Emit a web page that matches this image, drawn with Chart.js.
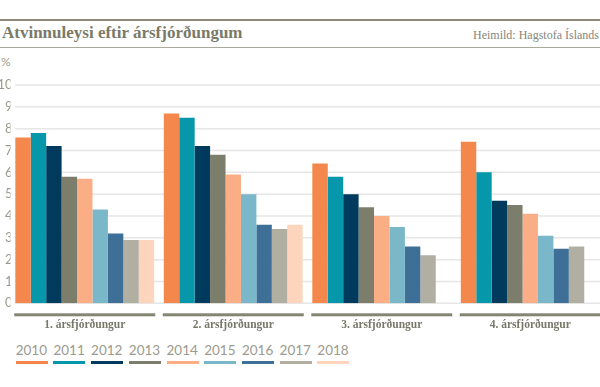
<!DOCTYPE html>
<html>
<head>
<meta charset="utf-8">
<script src="https://cdn.jsdelivr.net/npm/chart.js@4"></script>
<style>
  body { margin: 0; background: #fff; overflow: hidden; width: 600px; height: 387px; position: relative; }
  .rule-top { position: absolute; left: 0; top: 18.5px; width: 600px; height: 2px; background: #8c8b7b; }
  .rule-sub { position: absolute; left: 0; top: 46.5px; width: 600px; height: 1px; background: #aaa99c; }
  #title { position: absolute; left: 2px; top: 23px; font: bold 17px "Liberation Serif", serif; color: #7a7a67; white-space: nowrap; }
  #source { position: absolute; right: 1px; top: 28px; font: 12px "Liberation Serif", serif; color: #86867a; white-space: nowrap; }
  #unit { position: absolute; left: 1px; top: 54px; font: 12px Lato, sans-serif; color: #999a8e; }
  #wrap { position: absolute; left: 0; top: 0; width: 606px; height: 340px; }
  #legend { position: absolute; left: 0; top: 342px; width: 600px; height: 30px; }
  .item { position: absolute; top: 0; width: 32px; }
  .item span { display: block; font: 13.5px Lato, sans-serif; color: #9a9a8e; text-align: left; line-height: 16px; }
  .item i { display: block; margin-top: 3px; height: 3px; width: 32px; }
</style>
</head>
<body>
<div class="rule-top"></div>
<div id="title">Atvinnuleysi eftir ársfjórðungum</div>
<div id="source">Heimild: Hagstofa Íslands</div>
<div class="rule-sub"></div>
<div id="unit">%</div>
<div id="wrap"><canvas id="chart"></canvas></div>
<div id="legend"></div>
<script>
// Ársfjórðungar og ár
const fjordungar = ["1. ársfjórðungur", "2. ársfjórðungur", "3. ársfjórðungur", "4. ársfjórðungur"];
const ar = ["2010", "2011", "2012", "2013", "2014", "2015", "2016", "2017", "2018"];
const litir = ["#f4874b", "#0797ab", "#003a5d", "#7d7d6b", "#fbae86", "#7ab8c9", "#3e6f97", "#b1afa2", "#fdd5bd"];

// Atvinnuleysi (%) eftir ári, einn listi fyrir hvert ár (Q1..Q4)
const a2010 = [7.6, 8.7, 6.4, 7.4];
const a2011 = [7.8, 8.5, 5.8, 6.0];
const a2012 = [7.2, 7.2, 5.0, 4.7];
const a2013 = [5.8, 6.8, 4.4, 4.5];
const a2014 = [5.7, 5.9, 4.0, 4.1];
const a2015 = [4.3, 5.0, 3.5, 3.1];
const a2016 = [3.2, 3.6, 2.6, 2.5];
const a2017 = [2.9, 3.4, 2.2, 2.6];
const a2018 = [2.9, 3.6, null, null];
const yTicks = [0, 1, 2, 3, 4, 5, 6, 7, 8, 9, 10];

const gogn = [a2010, a2011, a2012, a2013, a2014, a2015, a2016, a2017, a2018];

// Legend í HTML
const legend = document.getElementById("legend");
ar.forEach((a, i) => {
    const d = document.createElement("div");
    d.className = "item";
    d.style.left = (15.7 + i * 37.7) + "px";
    d.innerHTML = `<span>${a}</span><i style="background:${litir[i]}"></i>`;
    legend.appendChild(d);
});

// Gridlínur og gráar línur undir hverjum ársfjórðungi
const skraut = {
    id: "skraut",
    beforeDatasetsDraw(chart) {
        const ctx = chart.ctx;
        const y = chart.scales.y;
        ctx.save();
        ctx.strokeStyle = "#e6e6e6";
        ctx.lineWidth = 1.5;
        yTicks.forEach(v => {
            const py = y.getPixelForValue(v);
            ctx.beginPath();
            ctx.moveTo(15, py);
            ctx.lineTo(chart.width, py);
            ctx.stroke();
        });
        ctx.restore();
    },
    afterDraw(chart) {
        const ctx = chart.ctx;
        const x = chart.scales.x;
        const botn = chart.chartArea.bottom;
        ctx.save();
        ctx.fillStyle = "#858573";
        fjordungar.forEach((f, i) => {
            const px = x.getPixelForValue(i);
            ctx.fillRect(px - 70.5, botn + 10, 141, 3);
        });
        ctx.restore();
    }
};

new Chart(document.getElementById("chart"), {
    type: "bar",
    data: {
        labels: fjordungar,
        datasets: ar.map((a, i) => ({
            label: a,
            data: gogn[i],
            backgroundColor: litir[i],
            borderWidth: 0,
            categoryPercentage: 0.935,
            barPercentage: 1
        }))
    },
    options: {
        responsive: true,
        maintainAspectRatio: false,
        animation: false,
        layout: { padding: { top: 85, right: 1.5, left: 0, bottom: 0 } },
        plugins: {
            legend: { display: false },
            tooltip: { enabled: false }
        },
        scales: {
            x: {
                grid: { display: false, drawTicks: false },
                border: { display: false },
                ticks: {
                    padding: 15,
                    color: "#77776a",
                    font: { family: "Liberation Serif", size: 11.5, weight: "bold" }
                },
                afterFit(s) { s.height = 36.7; }
            },
            y: {
                min: 0,
                max: 10,
                grid: { display: false, drawTicks: false },
                border: { display: false },
                ticks: {
                    stepSize: 1,
                    padding: -2,
                    color: "#999a8e",
                    font: { family: "Lato", size: 13 }
                },
                afterFit(s) { s.width = 10.5; }
            }
        }
    },
    plugins: [skraut]
});
</script>
</body>
</html>
